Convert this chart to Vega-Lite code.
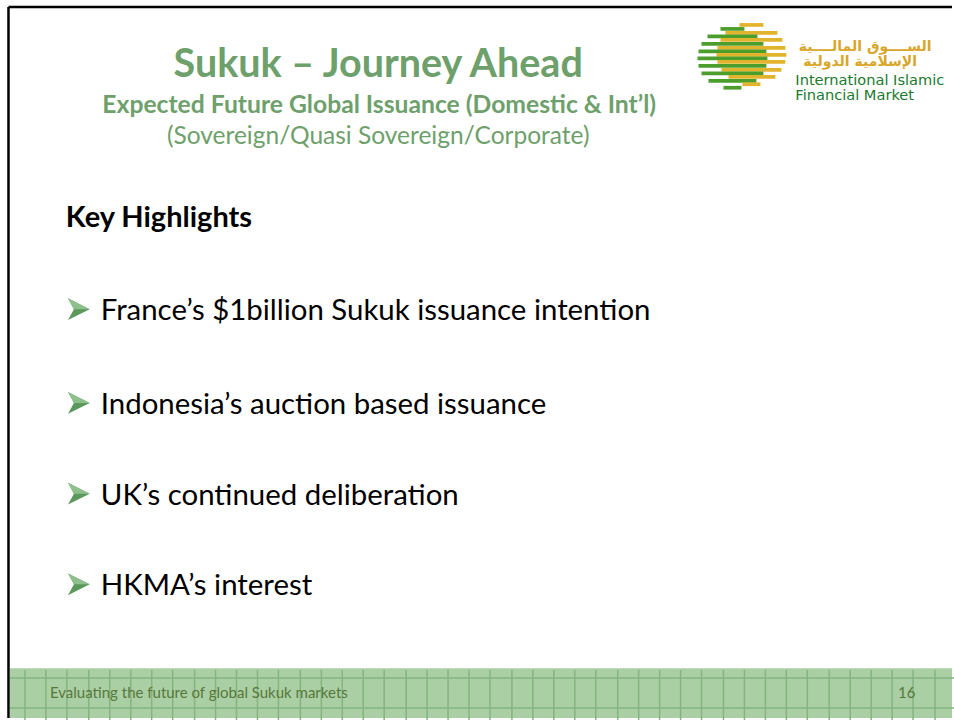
{
  "$schema": "https://vega.github.io/schema/vega-lite/v6.json",
  "width": 954,
  "height": 720,
  "padding": 0,
  "autosize": {"type": "fit", "contains": "padding"},
  "background": "#ffffff",
  "config": {"view": {"stroke": null}},
  "datasets": {
    "footer": [{"x": 10, "x2": 954, "y": 670, "y2": 720}],
    "gridv": [{"x":25},{"x":46},{"x":67},{"x":89},{"x":110},{"x":131},{"x":152},{"x":173},{"x":195},{"x":216},{"x":237},{"x":258},{"x":279},{"x":301},{"x":322},{"x":343},{"x":364},{"x":385},{"x":407},{"x":428},{"x":449},{"x":470},{"x":491},{"x":513},{"x":534},{"x":555},{"x":576},{"x":597},{"x":619},{"x":640},{"x":661},{"x":682},{"x":703},{"x":725},{"x":746},{"x":767},{"x":788},{"x":809},{"x":831},{"x":852},{"x":873},{"x":894},{"x":915},{"x":937}],
    "gridh": [{"y": 680}, {"y": 710}],
    "border": [{"x": 8.5, "x2": 954, "y": 7, "y2": 7}, {"x": 8.5, "x2": 8.5, "y": 7, "y2": 720}],
    "stripes": [
      {"c": "gold", "y": 25, "x": 741, "x2": 765},
      {"c": "green", "y": 29, "x": 722, "x2": 746},
      {"c": "gold", "y": 33, "x": 727, "x2": 779},
      {"c": "green", "y": 36.5, "x": 709, "x2": 759},
      {"c": "gold", "y": 40, "x": 722, "x2": 784},
      {"c": "green", "y": 44, "x": 703, "x2": 765},
      {"c": "gold", "y": 48, "x": 719, "x2": 787},
      {"c": "green", "y": 51.5, "x": 700, "x2": 768},
      {"c": "gold", "y": 55, "x": 718, "x2": 788},
      {"c": "green", "y": 58.5, "x": 699, "x2": 769},
      {"c": "gold", "y": 62, "x": 719, "x2": 787},
      {"c": "green", "y": 66, "x": 700, "x2": 768},
      {"c": "gold", "y": 70, "x": 723, "x2": 783},
      {"c": "green", "y": 73.5, "x": 703, "x2": 765},
      {"c": "gold", "y": 77, "x": 730, "x2": 777},
      {"c": "green", "y": 81, "x": 710, "x2": 758},
      {"c": "gold", "y": 84.5, "x": 744, "x2": 762},
      {"c": "green", "y": 88, "x": 725, "x2": 743}
    ],
    "title": [{"text": "Sukuk – Journey Ahead", "x": 379, "y": 77}],
    "subbold": [{"text": "Expected Future Global Issuance (Domestic & Int’l)", "x": 380, "y": 113}],
    "subnorm": [{"text": "(Sovereign/Quasi Sovereign/Corporate)", "x": 379, "y": 144}],
    "heading": [{"text": "Key Highlights", "x": 66, "y": 228}],
    "bullets": [
      {"text": "France’s $1billion Sukuk issuance intention", "x": 101, "y": 321},
      {"text": "Indonesia’s auction based issuance", "x": 101, "y": 415},
      {"text": "UK’s continued deliberation", "x": 101, "y": 506},
      {"text": "HKMA’s interest", "x": 101, "y": 597}
    ],
    "arrows": [
      {"x": 79, "y": 310},
      {"x": 79, "y": 404},
      {"x": 79, "y": 495},
      {"x": 79, "y": 586}
    ],
    "arabic": [
      {"text": "الســــوق المالــــية", "x": 867, "y": 51},
      {"text": "الإسلامية الدولية", "x": 862, "y": 66}
    ],
    "logotext": [
      {"text": "International Islamic", "x": 797, "y": 85.5},
      {"text": "Financial Market", "x": 797, "y": 100.5}
    ],
    "footleft": [{"text": "Evaluating the future of global Sukuk markets", "x": 50, "y": 700}],
    "footright": [{"text": "16", "x": 900, "y": 700}]
  },
  "encoding": {
    "x": {"field": "x", "type": "quantitative", "scale": {"domain": [0, 954], "nice": false, "zero": false}, "axis": null},
    "y": {"field": "y", "type": "quantitative", "scale": {"domain": [0, 720], "nice": false, "zero": false, "reverse": true}, "axis": null}
  },
  "layer": [
    {
      "data": {"name": "footer"},
      "mark": {"type": "rect", "fill": "#abcfa5"},
      "encoding": {"x2": {"field": "x2"}, "y2": {"field": "y2"}}
    },
    {
      "data": {"name": "gridv"},
      "mark": {"type": "rule", "stroke": "#86b380", "strokeWidth": 1.5, "y": 670, "y2": 720},
      "encoding": {"y": null}
    },
    {
      "data": {"name": "gridh"},
      "mark": {"type": "rule", "stroke": "#86b380", "strokeWidth": 1.5, "x": 10, "x2": 954},
      "encoding": {"x": null}
    },
    {
      "data": {"name": "border"},
      "mark": {"type": "rule", "stroke": "#000000", "strokeWidth": 2.5},
      "encoding": {"x2": {"field": "x2"}, "y2": {"field": "y2"}}
    },
    {
      "data": {"name": "stripes"},
      "mark": {"type": "rule", "strokeWidth": 3.7},
      "encoding": {
        "x2": {"field": "x2"},
        "color": {"field": "c", "type": "nominal", "scale": {"domain": ["green", "gold"], "range": ["#4c9e2c", "#e2b32c"]}, "legend": null}
      }
    },
    {
      "data": {"name": "title"},
      "mark": {"type": "text", "font": "Lato", "fontWeight": "bold", "fontSize": 39.5, "fill": "#6ea06c", "align": "center", "baseline": "alphabetic"},
      "encoding": {"text": {"field": "text"}}
    },
    {
      "data": {"name": "subbold"},
      "mark": {"type": "text", "font": "Lato", "fontWeight": "bold", "fontSize": 24.7, "fill": "#6ea06c", "align": "center", "baseline": "alphabetic"},
      "encoding": {"text": {"field": "text"}}
    },
    {
      "data": {"name": "subnorm"},
      "mark": {"type": "text", "font": "Lato", "fontSize": 24.5, "fill": "#6ea06c", "align": "center", "baseline": "alphabetic"},
      "encoding": {"text": {"field": "text"}}
    },
    {
      "data": {"name": "heading"},
      "mark": {"type": "text", "font": "Lato", "fontWeight": "bold", "fontSize": 29, "fill": "#000000", "align": "left", "baseline": "alphabetic"},
      "encoding": {"text": {"field": "text"}}
    },
    {
      "data": {"name": "bullets"},
      "mark": {"type": "text", "font": "Lato", "fontSize": 29.4, "fill": "#000000", "align": "left", "baseline": "alphabetic"},
      "encoding": {"text": {"field": "text"}}
    },
    {
      "data": {"name": "arrows"},
      "mark": {"type": "point", "filled": true, "size": 470, "opacity": 1, "color": "#5c985c", "shape": "M-1,-1 L1,0 L-1,1 L-0.45,0 Z"},
      "encoding": {}
    },
    {
      "data": {"name": "arrows"},
      "mark": {"type": "point", "filled": true, "size": 470, "opacity": 1, "color": "#8ec08c", "shape": "M-1,-1 L1,0 L-0.45,0 Z"},
      "encoding": {}
    },
    {
      "data": {"name": "arabic"},
      "mark": {"type": "text", "font": "DejaVu Sans", "fontWeight": "bold", "fontSize": 14, "fill": "#d9a62a", "align": "center", "baseline": "alphabetic"},
      "encoding": {"text": {"field": "text"}}
    },
    {
      "data": {"name": "logotext"},
      "mark": {"type": "text", "font": "DejaVu Sans", "fontSize": 14.6, "fill": "#207a30", "align": "left", "baseline": "alphabetic"},
      "encoding": {"text": {"field": "text"}}
    },
    {
      "data": {"name": "footleft"},
      "mark": {"type": "text", "font": "Lato", "fontSize": 15, "fill": "#56783a", "align": "left", "baseline": "alphabetic"},
      "encoding": {"text": {"field": "text"}}
    },
    {
      "data": {"name": "footright"},
      "mark": {"type": "text", "font": "Lato", "fontSize": 15, "fill": "#56783a", "align": "left", "baseline": "alphabetic"},
      "encoding": {"text": {"field": "text"}}
    }
  ]
}
